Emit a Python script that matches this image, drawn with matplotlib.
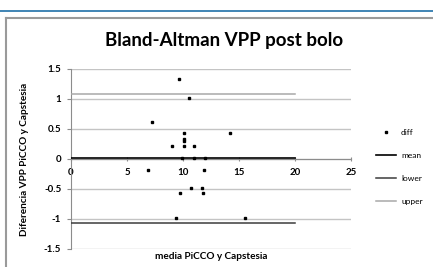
import numpy as np
import matplotlib.pyplot as plt
from matplotlib.lines import Line2D

plt.rcParams['font.family'] = ['Lato', 'DejaVu Sans']

# Bland-Altman points: mean of both methods vs difference
media = [9.6, 10.5, 7.25, 10.1, 14.2, 10.1, 10.1, 9.0, 10.1, 11.0,
         9.9, 11.0, 12.0, 6.9, 11.9, 10.7, 11.7, 9.7, 11.8, 9.4, 15.5]
diff = [1.33, 1.01, 0.62, 0.43, 0.43, 0.33, 0.30, 0.22, 0.22, 0.22,
        0.01, 0.01, 0.01, -0.18, -0.18, -0.49, -0.48, -0.57, -0.57, -0.99, -0.99]
mean_val = 0.01
lower_val = -1.06
upper_val = 1.08
line_x = [0, 20]

xticks = [0, 5, 10, 15, 20, 25]
yticks = [-1.5, -1, -0.5, 0, 0.5, 1, 1.5]

W, H = 433, 267
fig = plt.figure(figsize=(W / 100, H / 100), dpi=100)

# chart frame (Excel style) and blue rule on top
fig.add_artist(Line2D([0, 1], [1 - 11 / H, 1 - 11 / H], transform=fig.transFigure,
                      color='#1f6fa8', lw=1.2))
fig.add_artist(Line2D([6 / W, 1], [1 - 17.5 / H, 1 - 17.5 / H], transform=fig.transFigure,
                      color='#9a9a9a', lw=1.5))
fig.add_artist(Line2D([6 / W, 6 / W], [0, 1 - 17.5 / H], transform=fig.transFigure,
                      color='#9a9a9a', lw=1.5))

ax = fig.add_axes([71 / W, 18 / H, 280 / W, 180 / H])
ax.set_xlim(0, 25)
ax.set_ylim(-1.5, 1.5)

for y in yticks:
    ax.axhline(y, color='#c4c4c4', lw=1.0, zorder=0)

ax.plot(media, diff, ls='none', marker='s', ms=2.0, color='black', label='diff', zorder=4)
ax.plot(line_x, [mean_val] * 2, color='black', lw=1.2, label='mean', zorder=3)
ax.plot(line_x, [lower_val] * 2, color='#3c3c3c', lw=1.1, label='lower', zorder=3)
ax.plot(line_x, [upper_val] * 2, color='#a8a8a8', lw=1.1, label='upper', zorder=3)

for s in ['top', 'right']:
    ax.spines[s].set_visible(False)
ax.spines['left'].set_color('#8c8c8c')
ax.spines['bottom'].set_position(('data', 0))
ax.spines['bottom'].set_color('#8c8c8c')

ax.set_xticks(xticks)
ax.set_xticklabels([str(v) for v in xticks], fontsize=7, fontweight='bold')
ax.set_yticks(yticks)
ax.set_yticklabels(['-1.5', '-1', '-0.5', '0', '0.5', '1', '1.5'], fontsize=7, fontweight='bold')
ax.tick_params(axis='x', length=3, color='#8c8c8c', pad=5, direction='inout')
ax.tick_params(axis='y', length=3, color='#8c8c8c', pad=4)

ax.set_xlabel('media PiCCO y Capstesia', fontsize=7.2, fontweight='bold')
ax.xaxis.set_label_coords(0.5, -0.015)
ax.set_ylabel('Diferencia VPP PiCCO y Capstesia', fontsize=7.2, fontweight='bold')
ax.yaxis.set_label_coords(-0.15, 0.5)

fig.text(224 / W, 1 - 41 / H, 'Bland-Altman VPP post bolo', fontsize=13.5, fontweight='bold',
         ha='center', va='center')

ax.legend(loc='center left', bbox_to_anchor=(376 / W, 1 - 167 / H), bbox_transform=fig.transFigure,
          frameon=False, fontsize=6, handlelength=2.4, handletextpad=0.6, labelspacing=1.9,
          borderaxespad=0, borderpad=0)

fig.savefig('out.png', dpi=100)
